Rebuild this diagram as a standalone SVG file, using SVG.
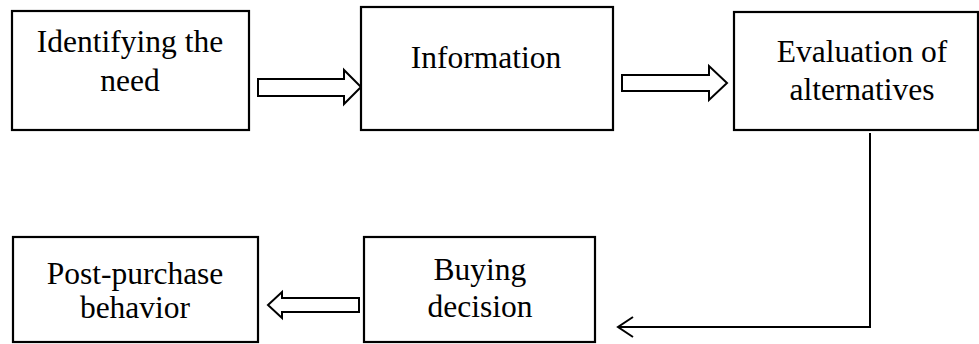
<svg xmlns="http://www.w3.org/2000/svg" width="979" height="344" viewBox="0 0 979 344">
<style>
.box{fill:#fff;stroke:#000;stroke-width:2.2}
text{font-family:'Liberation Serif',serif;font-size:31.5px;fill:#000;text-anchor:middle}
.blk{fill:#fff;stroke:#000;stroke-width:2;stroke-linejoin:miter}
.ln{fill:none;stroke:#000;stroke-width:2}
</style>
<rect width="979" height="344" fill="#fff"/>
<g id="connectors">
<polygon class="blk" points="258,79 344,79 344,70 361,87 344,104 344,96 258,96"/>
<polygon class="blk" points="622,75 709,75 709,66 727,83 709,100 709,91 622,91"/>
<polygon class="blk" points="359,298 282,298 282,292 268,305 282,318 282,312 359,312"/>
<polyline class="ln" points="870,133 870,327 618,327"/>
<polyline class="ln" points="633,317 618,327 633,337"/>
</g>
<g id="n1">
<rect class="box" x="12" y="11" width="237" height="119"/>
<text x="130" y="52" font-family="Liberation Serif, serif">Identifying the</text>
<text x="130" y="91" font-family="Liberation Serif, serif">need</text>
</g>
<g id="n2">
<rect class="box" x="361" y="7" width="252" height="123"/>
<text x="486" y="68" font-family="Liberation Serif, serif">Information</text>
</g>
<g id="n3">
<rect class="box" x="734" y="12" width="244" height="118"/>
<text x="862" y="62" font-family="Liberation Serif, serif">Evaluation of</text>
<text x="862" y="100" font-family="Liberation Serif, serif">alternatives</text>
</g>
<g id="n4">
<rect class="box" x="364" y="237" width="231" height="105"/>
<text x="480" y="280" font-family="Liberation Serif, serif">Buying</text>
<text x="480" y="317" font-family="Liberation Serif, serif">decision</text>
</g>
<g id="n5">
<rect class="box" x="13" y="237" width="245" height="105"/>
<text x="135" y="284" font-family="Liberation Serif, serif">Post-purchase</text>
<text x="135" y="318" font-family="Liberation Serif, serif">behavior</text>
</g>
</svg>
